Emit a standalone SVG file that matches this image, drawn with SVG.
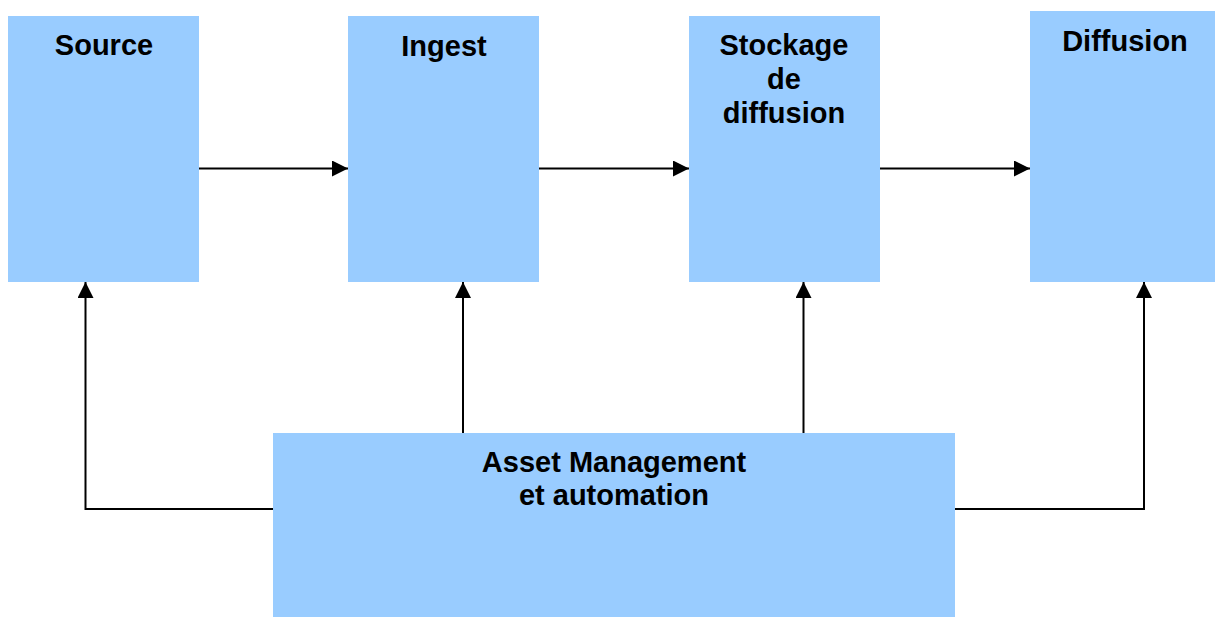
<svg xmlns="http://www.w3.org/2000/svg" width="1215" height="617" viewBox="0 0 1215 617">
  <style>
    .box { fill: #99ccff; }
    .lbl { font-family: "Liberation Sans", Arial, sans-serif; font-weight: bold; font-size: 29px; fill: #000; text-anchor: middle; }
    .conn { stroke: #000; stroke-width: 2; fill: none; }
  </style>
  <defs>
    <marker id="arrow" viewBox="0 0 16 16" refX="16" refY="8" markerWidth="16" markerHeight="16" markerUnits="userSpaceOnUse" orient="auto">
      <path d="M0,0 L16,8 L0,16 Z" fill="#000"/>
    </marker>
  </defs>
  <rect width="1215" height="617" fill="#fff"/>
  <g id="source">
    <rect class="box" x="8" y="16" width="191" height="266"/>
    <text class="lbl" x="104" y="55">Source</text>
  </g>
  <g id="ingest">
    <rect class="box" x="348" y="16" width="191" height="266"/>
    <text class="lbl" x="444" y="56">Ingest</text>
  </g>
  <g id="stockage">
    <rect class="box" x="689" y="16" width="191" height="266"/>
    <text class="lbl" x="784" y="55">Stockage</text>
    <text class="lbl" x="784" y="89">de</text>
    <text class="lbl" x="784" y="123">diffusion</text>
  </g>
  <g id="diffusion">
    <rect class="box" x="1030" y="11" width="191" height="271"/>
    <text class="lbl" x="1125" y="51">Diffusion</text>
  </g>
  <g id="asset">
    <rect class="box" x="273" y="433" width="682" height="184"/>
    <text class="lbl" x="614" y="472">Asset Management</text>
    <text class="lbl" x="614" y="505">et automation</text>
  </g>
  <g id="connectors">
    <line class="conn" x1="199" y1="168.5" x2="348" y2="168.5" marker-end="url(#arrow)"/>
    <line class="conn" x1="539" y1="168.5" x2="689" y2="168.5" marker-end="url(#arrow)"/>
    <line class="conn" x1="880" y1="168.5" x2="1030" y2="168.5" marker-end="url(#arrow)"/>
    <polyline class="conn" points="273,509 85.5,509 85.5,282" marker-end="url(#arrow)"/>
    <line class="conn" x1="463" y1="433" x2="463" y2="282" marker-end="url(#arrow)"/>
    <line class="conn" x1="803.5" y1="433" x2="803.5" y2="282" marker-end="url(#arrow)"/>
    <polyline class="conn" points="955,509 1144,509 1144,282" marker-end="url(#arrow)"/>
  </g>
</svg>
